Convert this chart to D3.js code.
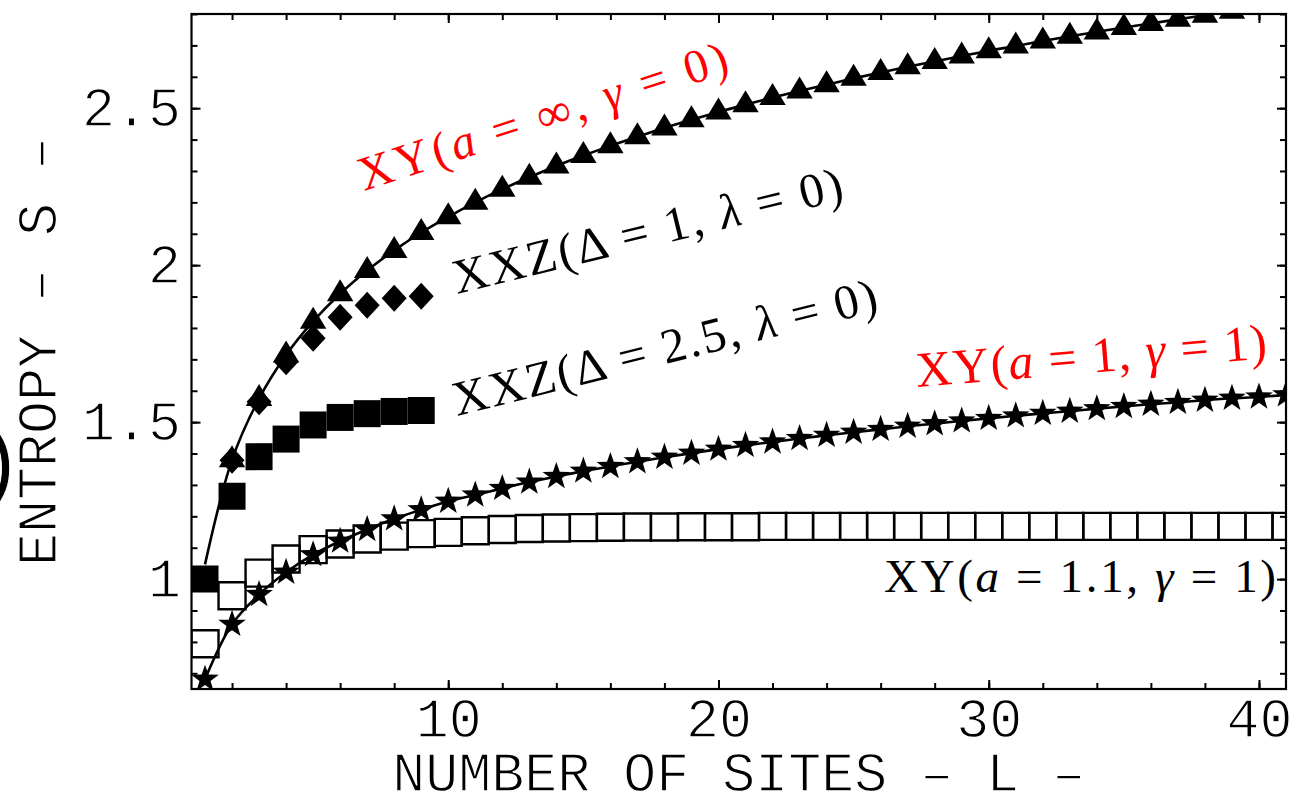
<!DOCTYPE html>
<html>
<head>
<meta charset="utf-8">
<script src="https://cdn.jsdelivr.net/npm/d3@7/dist/d3.min.js"></script>
<style>
  html, body { margin: 0; padding: 0; background: #fff; overflow: hidden; }
  svg { display: block; }
</style>
</head>
<body>
<svg id="chart" width="1302" height="798"></svg>
<script>
// ---- data: block entropy S versus number of sites L ----
// XY (a = ∞, γ = 0): critical chain, curve from L = 1, triangles from L = 2
const sitesXYCritical = d3.range(1, 41);
const entropyXYCritical = [1.047, 1.380, 1.575, 1.714, 1.821, 1.909, 1.983, 2.047, 2.104, 2.154,
  2.200, 2.242, 2.280, 2.316, 2.349, 2.380, 2.409, 2.437, 2.463, 2.488,
  2.511, 2.534, 2.555, 2.575, 2.595, 2.614, 2.632, 2.649, 2.666, 2.683,
  2.698, 2.714, 2.729, 2.743, 2.757, 2.770, 2.783, 2.796, 2.809, 2.821];

// XXZ (Δ = 1, λ = 0): diamonds
const sitesXXZ1 = [2, 3, 4, 5, 6, 7, 8, 9];
const entropyXXZ1 = [1.379, 1.565, 1.692, 1.767, 1.834, 1.872, 1.895, 1.901];

// XXZ (Δ = 2.5, λ = 0): filled squares
const sitesXXZ25 = [1, 2, 3, 4, 5, 6, 7, 8, 9];
const entropyXXZ25 = [1.000, 1.264, 1.390, 1.446, 1.491, 1.515, 1.527, 1.534, 1.537];

// XY (a = 1, γ = 1): stars with curve
const sitesXYIsing = d3.range(1, 42);
const entropyXYIsing = [0.681, 0.856, 0.951, 1.022, 1.078, 1.121, 1.158, 1.192, 1.221, 1.248,
  1.268, 1.289, 1.309, 1.327, 1.344, 1.359, 1.374, 1.388, 1.401, 1.414,
  1.426, 1.437, 1.448, 1.458, 1.468, 1.477, 1.487, 1.495, 1.504, 1.512,
  1.520, 1.528, 1.535, 1.543, 1.550, 1.557, 1.563, 1.570, 1.576, 1.580, 1.587];

// XY (a = 1.1, γ = 1): open squares
const sitesXYGapped = d3.range(1, 42);
const entropyXYGapped = [0.794, 0.947, 1.019, 1.064, 1.094, 1.112, 1.128, 1.137, 1.145, 1.149,
  1.154, 1.158, 1.161, 1.163, 1.164, 1.165, 1.166, 1.166, 1.167, 1.167,
  1.167, 1.168, 1.168, 1.168, 1.168, 1.168, 1.168, 1.168, 1.168, 1.168,
  1.168, 1.168, 1.168, 1.168, 1.168, 1.168, 1.168, 1.168, 1.168, 1.168, 1.168];

// axis ticks
const xMajorTicks = [10, 20, 30, 40];
const xTickLabels = ["10", "20", "30", "40"];
const xMinorTicks = d3.range(2, 41, 2);
const yMajorTicks = [1, 1.5, 2, 2.5];
const yTickLabels = ["1", "1.5", "2", "2.5"];
const yMinorTicks = d3.range(7, 29).map(d => d / 10);

// ---- layout ----
const plot = { left: 191.5, right: 1286, top: 14, bottom: 689 };
const monoFont = "'Liberation Mono', 'Courier New', monospace";
const serifFont = "'Liberation Serif', 'Times New Roman', serif";

const svg = d3.select("#chart");
const x = d3.scaleLinear().domain([0.5, 41]).range([plot.left, plot.right]);
const y = d3.scaleLinear().domain([0.65, 2.8]).range([plot.bottom, plot.top]);

svg.append("defs").append("clipPath").attr("id", "plotClip")
  .append("rect")
  .attr("x", plot.left).attr("y", plot.top)
  .attr("width", plot.right - plot.left).attr("height", plot.bottom - plot.top);

// thin typewriter look for the monospace texts: a white halo trims the strokes
function thinMono(sel) {
  sel.attr("font-family", monoFont).attr("font-size", 55).attr("fill", "#000")
    .attr("stroke", "#fff").attr("stroke-width", 1.3).attr("paint-order", "normal");
}

// ---- axes: ticks point inward on all four sides ----
function styleAxis(g) {
  g.select(".domain").remove();
  g.selectAll(".tick line").attr("stroke", "#000").attr("stroke-width", 2);
  g.selectAll("text").call(thinMono);
}
const majorLen = 9, minorLen = 6;

svg.append("g").attr("transform", `translate(0,${plot.bottom})`)
  .call(d3.axisBottom(x).tickValues(xMinorTicks).tickSize(-minorLen).tickFormat(""))
  .call(styleAxis);
svg.append("g").attr("transform", `translate(0,${plot.bottom})`)
  .call(d3.axisBottom(x).tickValues(xMajorTicks).tickSize(-majorLen).tickPadding(9)
    .tickFormat((d, i) => xTickLabels[i]))
  .call(styleAxis)
  .call(g => g.selectAll("text").attr("y", 48).attr("dy", 0));

svg.append("g").attr("transform", `translate(0,${plot.top})`)
  .call(d3.axisTop(x).tickValues(xMinorTicks).tickSize(-minorLen).tickFormat(""))
  .call(styleAxis);
svg.append("g").attr("transform", `translate(0,${plot.top})`)
  .call(d3.axisTop(x).tickValues(xMajorTicks).tickSize(-majorLen).tickFormat(""))
  .call(styleAxis);

svg.append("g").attr("transform", `translate(${plot.left},0)`)
  .call(d3.axisLeft(y).tickValues(yMinorTicks).tickSize(-minorLen).tickFormat(""))
  .call(styleAxis);
svg.append("g").attr("transform", `translate(${plot.left},0)`)
  .call(d3.axisLeft(y).tickValues(yMajorTicks).tickSize(-majorLen).tickPadding(10.5)
    .tickFormat((d, i) => yTickLabels[i]))
  .call(styleAxis)
  .call(g => g.selectAll("text").attr("x", -10.5).attr("dy", 0).attr("y", 17.5));

svg.append("g").attr("transform", `translate(${plot.right},0)`)
  .call(d3.axisRight(y).tickValues(yMinorTicks).tickSize(-minorLen).tickFormat(""))
  .call(styleAxis);
svg.append("g").attr("transform", `translate(${plot.right},0)`)
  .call(d3.axisRight(y).tickValues(yMajorTicks).tickSize(-majorLen).tickFormat(""))
  .call(styleAxis);

// frame
svg.append("rect")
  .attr("x", plot.left).attr("y", plot.top)
  .attr("width", plot.right - plot.left).attr("height", plot.bottom - plot.top)
  .attr("fill", "none").attr("stroke", "#000").attr("stroke-width", 2.2);

// axis titles
svg.append("text")
  .attr("x", (plot.left + plot.right) / 2).attr("y", 791)
  .attr("text-anchor", "middle")
  .call(thinMono)
  .text("NUMBER OF SITES \u2013 L \u2013");

svg.append("text")
  .attr("transform", `translate(56,${(plot.top + plot.bottom) / 2}) rotate(-90)`)
  .attr("text-anchor", "middle")
  .call(thinMono)
  .text("ENTROPY \u2013 S \u2013");

// panel bracket at the far left edge
svg.append("text")
  .attr("x", -30).attr("y", 492)
  .call(thinMono).attr("font-size", 92).attr("stroke-width", 1)
  .text(")");

// ---- marks ----
const marks = svg.append("g").attr("clip-path", "url(#plotClip)");

const curve = d3.line()
  .x(d => x(d[0])).y(d => y(d[1]))
  .curve(d3.curveCatmullRom.alpha(0.5));

const zipCritical = sitesXYCritical.map((L, i) => [L, entropyXYCritical[i]]);
const zipIsing = sitesXYIsing.map((L, i) => [L, entropyXYIsing[i]]);
const zipGapped = sitesXYGapped.map((L, i) => [L, entropyXYGapped[i]]);
const zipXXZ1 = sitesXXZ1.map((L, i) => [L, entropyXXZ1[i]]);
const zipXXZ25 = sitesXXZ25.map((L, i) => [L, entropyXXZ25[i]]);

marks.append("path").datum(zipCritical)
  .attr("d", curve).attr("fill", "none").attr("stroke", "#000").attr("stroke-width", 2.6);
marks.append("path").datum(zipIsing)
  .attr("d", curve).attr("fill", "none").attr("stroke", "#000").attr("stroke-width", 2.6);

// marker shapes (pixel units, centred on the data point)
function trianglePath() {
  const p = d3.path();
  p.moveTo(0, -14.5); p.lineTo(13.2, 7.5); p.lineTo(-13.2, 7.5); p.closePath();
  return p.toString();
}
function diamondPath() {
  const p = d3.path();
  p.moveTo(0, -13.5); p.lineTo(12.5, 0); p.lineTo(0, 13.5); p.lineTo(-12.5, 0); p.closePath();
  return p.toString();
}
function squarePath(s) {
  const p = d3.path();
  p.rect(-s / 2, -s / 2, s, s);
  return p.toString();
}
function starPath(R, r) {
  const p = d3.path();
  for (let k = 0; k < 10; k++) {
    const a = -Math.PI / 2 + k * Math.PI / 5;
    const rad = k % 2 === 0 ? R : r;
    const px = rad * Math.cos(a), py = rad * Math.sin(a);
    if (k === 0) p.moveTo(px, py); else p.lineTo(px, py);
  }
  p.closePath();
  return p.toString();
}

// open squares (gapped XY)
marks.append("g").selectAll("path").data(zipGapped).join("path")
  .attr("transform", d => `translate(${x(d[0])},${y(d[1])})`)
  .attr("d", squarePath(27))
  .attr("fill", "none").attr("stroke", "#000").attr("stroke-width", 2.4);

// triangles (critical XY, from L = 2)
marks.append("g").selectAll("path").data(zipCritical.filter(d => d[0] >= 2)).join("path")
  .attr("transform", d => `translate(${x(d[0])},${y(d[1])})`)
  .attr("d", trianglePath()).attr("fill", "#000");

// diamonds (XXZ Δ = 1)
marks.append("g").selectAll("path").data(zipXXZ1).join("path")
  .attr("transform", d => `translate(${x(d[0])},${y(d[1])})`)
  .attr("d", diamondPath()).attr("fill", "#000");

// filled squares (XXZ Δ = 2.5)
marks.append("g").selectAll("path").data(zipXXZ25).join("path")
  .attr("transform", d => `translate(${x(d[0])},${y(d[1])})`)
  .attr("d", squarePath(27)).attr("fill", "#000");

// stars (XY a = 1, γ = 1)
marks.append("g").selectAll("path").data(zipIsing).join("path")
  .attr("transform", d => `translate(${x(d[0])},${y(d[1])})`)
  .attr("d", starPath(14.5, 5.8)).attr("fill", "#000");

// ---- curve labels ----
function mathLabel(parts, x0, y0, angle, length, size, color) {
  const t = svg.append("text")
    .attr("transform", `translate(${x0},${y0}) rotate(${-angle})`)
    .attr("font-family", serifFont).attr("font-size", size).attr("fill", color)
    .attr("textLength", length).attr("lengthAdjust", "spacing")
    .style("white-space", "pre");
  parts.forEach(([s, italic]) => {
    t.append("tspan").attr("font-style", italic ? "italic" : "normal").text(s);
  });
}

mathLabel([["XY(", 0], ["a", 1], [" = \u221E, ", 0], ["\u03B3", 1], [" = 0)", 0]],
  364, 191, 18, 386, 48, "#ff0000");
mathLabel([["XXZ(\u0394 = 1, ", 0], ["\u03BB", 1], [" = 0)", 0]],
  457, 294, 13.7, 400, 49, "#000");
mathLabel([["XXZ(\u0394 = 2.5, ", 0], ["\u03BB", 1], [" = 0)", 0]],
  457, 416, 14, 436, 49, "#000");
mathLabel([["XY(", 0], ["a", 1], [" = 1, ", 0], ["\u03B3", 1], [" = 1)", 0]],
  917, 387, 4.7, 352, 50, "#ff0000");
mathLabel([["XY(", 0], ["a", 1], [" = 1.1, ", 0], ["\u03B3", 1], [" = 1)", 0]],
  884, 592, 0, 392, 47, "#000");
</script>
</body>
</html>
